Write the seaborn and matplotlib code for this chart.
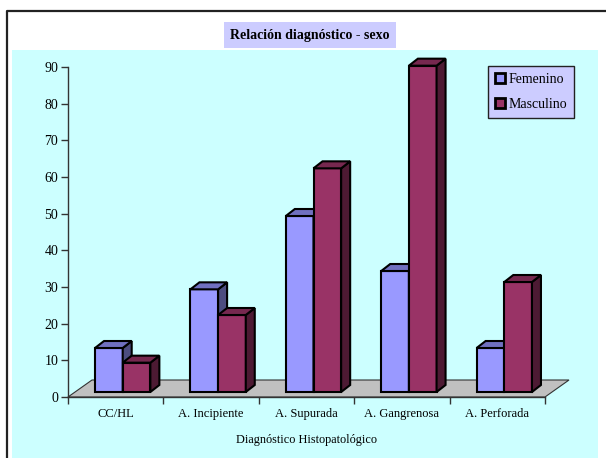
import numpy as np
import pandas as pd
import matplotlib
matplotlib.use('Agg')
import matplotlib.pyplot as plt
import seaborn as sns
from matplotlib.patches import Polygon, Rectangle
from matplotlib.lines import Line2D
from matplotlib.transforms import ScaledTranslation

# Datos
diagnosticos = ['CC/HL', 'A. Incipiente', 'A. Supurada', 'A. Gangrenosa', 'A. Perforada']
femenino = [12, 28, 48, 33, 12]
masculino = [8, 21, 61, 89, 30]
sexos = ['Femenino', 'Masculino']

df = pd.DataFrame({
    'Diagnóstico': diagnosticos * 2,
    'Sexo': [sexos[0]] * len(femenino) + [sexos[1]] * len(masculino),
    'Casos': femenino + masculino,
})

# Colores estilo Excel: frente, tapa, lateral
frente = ['#9999FF', '#993366']
tapa = ['#7070C0', '#76284F']
lateral = ['#4D4D80', '#4D1A33']

sns.set_theme(style='white')
plt.rcParams['font.family'] = ['Liberation Serif', 'DejaVu Serif']
plt.rcParams['text.color'] = 'black'

W, H = 606, 458
fig = plt.figure(figsize=(W / 100, H / 100), dpi=100)
fig.patch.set_facecolor('white')

def fx(px):
    return px / W

def fy(py):
    return 1 - py / H

# fondo cian y marco
fig.patches.append(Rectangle((fx(12), 0), fx(598) - fx(12), fy(50),
                             transform=fig.transFigure, facecolor='#CCFFFF',
                             edgecolor='none', zorder=-5))
fig.add_artist(Line2D([fx(7), fx(7), 1], [0, fy(11), fy(11)],
                      color='#222222', lw=1.6, transform=fig.transFigure, zorder=-4))

# título con recuadro
fig.text(fx(310), fy(35), 'Relación diagnóstico - sexo', ha='center', va='center',
         fontsize=10, fontweight='bold', color='black',
         bbox=dict(boxstyle='square,pad=0.45', facecolor='#CCCCFF', edgecolor='none'))

ax = fig.add_axes([fx(68), fy(397), 477 / W, 330 / H])
ax.set_facecolor('none')

sns.barplot(data=df, x='Diagnóstico', y='Casos', hue='Sexo', palette=frente,
            width=0.58, saturation=1, errorbar=None, edgecolor='black',
            linewidth=1.5, ax=ax)

ax.set_xlim(-0.5, 4.5)
ax.set_ylim(0, 90)
ax.set_yticks(range(0, 91, 10))

def desplazar(x, y, dx, dy):
    px, py = ax.transData.transform((x, y))
    return ax.transData.inverted().transform((px + dx, py + dy))

# suelo gris
prof_suelo = (24, 17)
suelo = [(-0.5, 0), (4.5, 0), desplazar(4.5, 0, *prof_suelo), desplazar(-0.5, 0, *prof_suelo)]
ax.add_patch(Polygon(suelo, closed=True, facecolor='#C0C0C0', edgecolor='#333333',
                     lw=0.8, zorder=1, clip_on=False))

# barras en 3D
avance = (7, 5)
prof = (9, 7)
desp = ScaledTranslation(avance[0] / 100, avance[1] / 100, fig.dpi_scale_trans)
for i, cont in enumerate(ax.containers):
    for j, bar in enumerate(cont):
        z = 2 + j + 0.5 * i
        x0, w, h = bar.get_x(), bar.get_width(), bar.get_height()
        bar.set_transform(ax.transData + desp)
        bar.set_zorder(z)
        bar.set_joinstyle('miter')
        bar.set_clip_on(False)
        ftl = desplazar(x0, h, *avance)
        ftr = desplazar(x0 + w, h, *avance)
        fbr = desplazar(x0 + w, 0, *avance)
        btl = desplazar(x0, h, avance[0] + prof[0], avance[1] + prof[1])
        btr = desplazar(x0 + w, h, avance[0] + prof[0], avance[1] + prof[1])
        bbr = desplazar(x0 + w, 0, avance[0] + prof[0], avance[1] + prof[1])
        ax.add_patch(Polygon([fbr, ftr, btr, bbr], closed=True, facecolor=lateral[i],
                             edgecolor='black', lw=1.5, joinstyle='miter', zorder=z,
                             clip_on=False))
        ax.add_patch(Polygon([ftl, ftr, btr, btl], closed=True, facecolor=tapa[i],
                             edgecolor='black', lw=1.5, joinstyle='miter', zorder=z,
                             clip_on=False))

# ejes
for s in ['top', 'right']:
    ax.spines[s].set_visible(False)
for s in ['left', 'bottom']:
    ax.spines[s].set_color('#333333')
    ax.spines[s].set_linewidth(1)
    ax.spines[s].set_zorder(1.5)

ax.tick_params(axis='y', left=True, direction='out', length=5, width=1,
               color='#333333', labelsize=10, pad=2, labelcolor='black')
ax.set_xticks(np.arange(-0.5, 5, 1), minor=True)
ax.tick_params(axis='x', which='minor', bottom=True, direction='out', length=5,
               width=1, color='#333333')
ax.tick_params(axis='x', which='major', bottom=False, length=0, pad=8,
               labelsize=9, labelcolor='black')
ax.set_ylabel('')
ax.set_xlabel('Diagnóstico Histopatológico', fontsize=8.8, labelpad=10, color='black')

# leyenda
sns.move_legend(ax, 'upper left', bbox_to_anchor=(fx(488), fy(66)),
                bbox_transform=fig.transFigure, title=None, frameon=True,
                fancybox=False, fontsize=10, borderaxespad=0, borderpad=0.5,
                handlelength=0.7, handleheight=0.7, handletextpad=0.25,
                labelspacing=0.85)
leg = ax.get_legend()
leg.get_frame().set_facecolor('#CCCCFF')
leg.get_frame().set_edgecolor('#222222')
leg.get_frame().set_linewidth(1)
leg.get_frame().set_alpha(1)
for hnd in leg.legend_handles:
    hnd.set_edgecolor('black')
    hnd.set_linewidth(2)

fig.savefig('out.png', dpi=100)
